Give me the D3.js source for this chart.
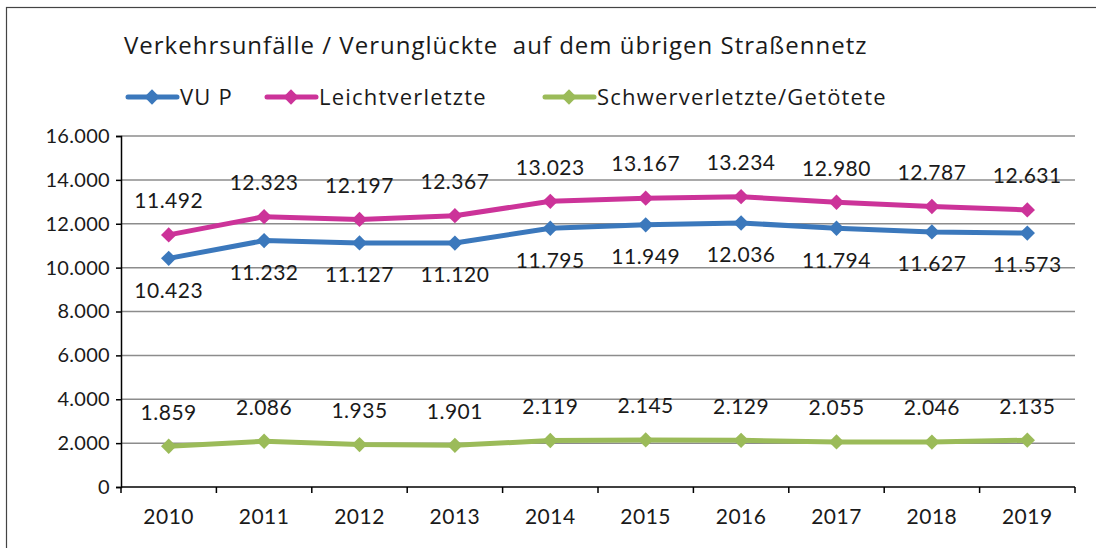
<!DOCTYPE html>
<html>
<head>
<meta charset="utf-8">
<script src="https://cdn.jsdelivr.net/npm/d3@7"></script>
<style>
  body { margin: 0; background: #fff; }
  text { font-family: Lato, "Open Sans", sans-serif; fill: #1a1a1a; }
  .wide { font-family: "Open Sans", Lato, sans-serif; }
</style>
</head>
<body>
<div class="canvas"></div>
<script>
// data
const years = ['2010','2011','2012','2013','2014','2015','2016','2017','2018','2019'];
const vuP = [10423, 11232, 11127, 11120, 11795, 11949, 12036, 11794, 11627, 11573];
const leicht = [11492, 12323, 12197, 12367, 13023, 13167, 13234, 12980, 12787, 12631];
const schwer = [1859, 2086, 1935, 1901, 2119, 2145, 2129, 2055, 2046, 2135];
const yTicks = [0, 2000, 4000, 6000, 8000, 10000, 12000, 14000, 16000];

const series = [
  {name: 'VU P', values: vuP, color: '#3b78bc', labelPos: 'below'},
  {name: 'Leichtverletzte', values: leicht, color: '#cc3399', labelPos: 'above'},
  {name: 'Schwerverletzte/Getötete', values: schwer, color: '#9bbb59', labelPos: 'above'}
];

const svg = d3.select('.canvas')
  .append('svg')
    .attr('width', 1096)
    .attr('height', 548);

// outer frame
svg.append('rect')
  .attr('x', 6.5).attr('y', 7.5)
  .attr('width', 1200).attr('height', 600)
  .attr('fill', 'none').attr('stroke', '#444').attr('stroke-width', 1.2);

const margin = {top: 136, left: 121};
const graphWidth = 1075 - margin.left;
const graphHeight = 487 - margin.top;

const graph = svg.append('g')
  .attr('transform', `translate(${margin.left}, ${margin.top})`);

const x = d3.scaleBand()
  .domain(years)
  .range([0, graphWidth]);

const y = d3.scaleLinear()
  .domain([0, 16000])
  .range([graphHeight, 0]);

const fmt = d3.formatLocale({decimal: ',', thousands: '.', grouping: [3]}).format(',');

// gridlines
graph.append('g')
  .selectAll('line')
  .data(yTicks.filter(d => d > 0))
  .enter().append('line')
    .attr('x1', 0).attr('x2', graphWidth)
    .attr('y1', d => y(d)).attr('y2', d => y(d))
    .attr('stroke', '#8c8c8c').attr('stroke-width', 1.5);

// y axis
const yAxisGroup = graph.append('g');
yAxisGroup.call(d3.axisLeft(y).tickValues(yTicks).tickFormat(fmt).tickSize(5).tickPadding(6));
yAxisGroup.select('.domain').attr('stroke', '#000').attr('stroke-width', 1.5);
yAxisGroup.selectAll('.tick line').attr('stroke', '#000').attr('stroke-width', 1.5);
yAxisGroup.selectAll('text')
  .style('font-size', '20px')
  .style('letter-spacing', '0.3px')
  .attr('fill', '#1a1a1a');

// x axis, ticks on band boundaries
const xAxisGroup = graph.append('g')
  .attr('transform', `translate(0, ${graphHeight})`);
xAxisGroup.append('line')
  .attr('x1', 0).attr('x2', graphWidth)
  .attr('stroke', '#000').attr('stroke-width', 1.5);
const bounds = years.map(d => x(d)).concat([graphWidth]);
xAxisGroup.selectAll('line.tk')
  .data(bounds)
  .enter().append('line')
    .attr('class', 'tk')
    .attr('x1', d => d).attr('x2', d => d)
    .attr('y1', 0).attr('y2', 6)
    .attr('stroke', '#000').attr('stroke-width', 1.5);
xAxisGroup.selectAll('text')
  .data(years)
  .enter().append('text')
    .attr('x', d => x(d) + x.bandwidth() / 2)
    .attr('y', 37)
    .attr('text-anchor', 'middle')
    .style('font-size', '21px')
    .style('letter-spacing', '0.5px')
    .text(d => d);

const line = d3.line()
  .x((d, i) => x(years[i]) + x.bandwidth() / 2)
  .y(d => y(d));

const diamond = d3.symbol().type(d3.symbolDiamond2).size(150);

series.forEach(s => {
  graph.append('path')
    .attr('d', line(s.values))
    .attr('fill', 'none')
    .attr('stroke', s.color)
    .attr('stroke-width', 5)
    .attr('stroke-linejoin', 'round');

  graph.selectAll(null)
    .data(s.values)
    .enter().append('path')
      .attr('d', diamond)
      .attr('transform', (d, i) => `translate(${x(years[i]) + x.bandwidth() / 2}, ${y(d)})`)
      .attr('fill', s.color);

  graph.selectAll(null)
    .data(s.values)
    .enter().append('text')
      .attr('x', (d, i) => x(years[i]) + x.bandwidth() / 2)
      .attr('y', d => s.labelPos === 'above' ? y(d) - 34 : y(d) + 32)
      .attr('dy', '0.35em')
      .attr('text-anchor', 'middle')
      .style('font-size', '21px')
      .style('letter-spacing', '0.5px')
      .text(d => fmt(d));
});

// title
svg.append('text')
  .attr('class', 'wide')
  .attr('x', 124)
  .attr('y', 54)
  .style('font-size', '24px')
  .style('letter-spacing', '1px')
  .attr('xml:space', 'preserve')
  .text('Verkehrsunfälle / Verunglückte  auf dem übrigen Straßennetz');

// legend
const legendX = [127, 266, 544];
const legend = svg.selectAll('g.legend')
  .data(series)
  .enter().append('g')
    .attr('class', 'legend')
    .attr('transform', (d, i) => `translate(${legendX[i]}, 97)`);
legend.append('line')
  .attr('x1', 1).attr('x2', 50)
  .attr('stroke', d => d.color)
  .attr('stroke-width', 5)
  .attr('stroke-linecap', 'round');
legend.append('path')
  .attr('d', diamond)
  .attr('transform', 'translate(25,0)')
  .attr('fill', d => d.color);
legend.append('text')
  .attr('class', 'wide')
  .attr('x', 53)
  .attr('dy', '0.35em')
  .style('font-size', '22px')
  .style('letter-spacing', '1.2px')
  .text(d => d.name);
</script>
</body>
</html>
